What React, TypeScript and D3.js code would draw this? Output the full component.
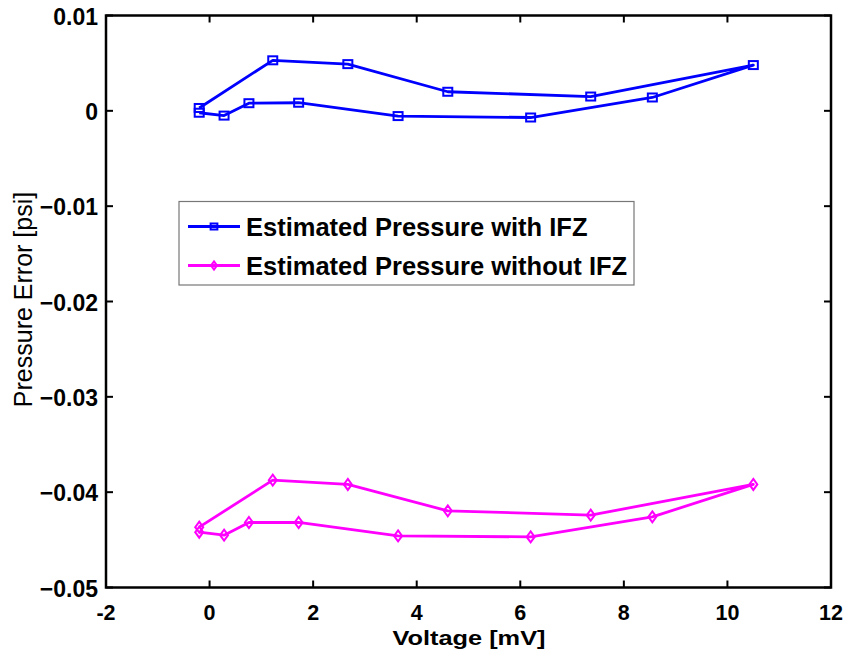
import React from 'react';
import * as d3 from 'd3';

// hysteresis sweep, voltage in mV
const voltage = [-0.2, 1.22, 2.67, 4.6, 7.36, 10.5, 8.55, 6.2, 3.64, 1.72, 0.76, 0.28, -0.2];
const errWithIFZ = [0.0003, 0.0053, 0.0049, 0.002, 0.0015, 0.0048, 0.0014, -0.0007, -0.00055, 0.00085, 0.0008, -0.0005, -0.0002];
const errWithoutIFZ = [-0.04367, -0.03874, -0.03919, -0.04196, -0.04241, -0.03919, -0.04259, -0.04469, -0.04459, -0.04318, -0.04318, -0.04451, -0.0442];

const xTicks = [-2, 0, 2, 4, 6, 8, 10, 12];
const yTicks = [0.01, 0, -0.01, -0.02, -0.03, -0.04, -0.05];
const seriesNames = ['Estimated Pressure with IFZ', 'Estimated Pressure without IFZ'];
const seriesColors = ['#0000ff', '#ff00ff'];

const W = 848, H = 661;
const margin = { left: 106, right: 17, top: 15.5, bottom: 73.5 };
const font = '"Liberation Sans", Arial, Helvetica, sans-serif';

function Marker({ kind, x, y, color, s = 1 }: { kind: string; x: number; y: number; color: string; s?: number }) {
  if (kind === 'square') {
    return <rect x={x - 4.5 * s} y={y - 4 * s} width={9 * s} height={8 * s} fill="none" stroke={color} strokeWidth={2} />;
  }
  const r = 5.5 * s, w = 4 * s;
  return (
    <path d={`M${x},${y - r}L${x + w},${y}L${x},${y + r}L${x - w},${y}Z`} fill="none" stroke={color} strokeWidth={2} />
  );
}

export default function App() {
  const x = d3.scaleLinear().domain([-2, 12]).range([margin.left, W - margin.right]);
  const y = d3.scaleLinear().domain([-0.05, 0.01]).range([H - margin.bottom, margin.top]);

  const line = d3.line<number>()
    .x((_, i) => x(voltage[i]))
    .y((d) => y(d));

  const series = [
    { name: seriesNames[0], values: errWithIFZ, color: seriesColors[0], marker: 'square' },
    { name: seriesNames[1], values: errWithoutIFZ, color: seriesColors[1], marker: 'diamond' },
  ];

  const x0 = margin.left, x1 = W - margin.right;
  const y0 = margin.top, y1 = H - margin.bottom;
  const tickLen = 7;
  const xMid = (x0 + x1) / 2;

  return (
    <svg width={W} height={H} style={{ position: 'absolute', left: 0, top: 0, background: '#fff' }} fontFamily={font}>
      {/* ticks, inside on all sides */}
      {xTicks.map((t) => (
        <g key={'xt' + t}>
          <line x1={x(t)} x2={x(t)} y1={y1} y2={y1 - tickLen} stroke="#000" strokeWidth={2} />
          <line x1={x(t)} x2={x(t)} y1={y0} y2={y0 + tickLen} stroke="#000" strokeWidth={2} />
          <text x={x(t)} y={y1 + 32.5} textAnchor="middle" fontSize={21.5} fontWeight="bold">{t}</text>
        </g>
      ))}
      {yTicks.map((t) => (
        <g key={'yt' + t}>
          <line x1={x0} x2={x0 + tickLen} y1={y(t)} y2={y(t)} stroke="#000" strokeWidth={2} />
          <line x1={x1} x2={x1 - tickLen} y1={y(t)} y2={y(t)} stroke="#000" strokeWidth={2} />
          <text x={x0 - 8} y={y(t) + 9} textAnchor="end" fontSize={23} fontWeight="bold">{t === 0 ? '0' : d3.format('.2f')(t)}</text>
        </g>
      ))}
      <rect x={x0} y={y0} width={x1 - x0} height={y1 - y0} fill="none" stroke="#000" strokeWidth={2.5} />

      {series.map((s) => (
        <g key={s.name}>
          <path d={line(s.values) || ''} fill="none" stroke={s.color} strokeWidth={2.8} strokeLinejoin="round" />
          {s.values.map((v, i) => (
            <Marker key={i} kind={s.marker} x={x(voltage[i])} y={y(v)} color={s.color} />
          ))}
        </g>
      ))}

      {/* legend */}
      <rect x={179} y={201.5} width={455} height={83.5} fill="#fff" stroke="#777" strokeWidth={1.2} />
      {series.map((s, i) => {
        const cy = 226.5 + i * 39;
        return (
          <g key={'lg' + i}>
            <line x1={188} x2={240} y1={cy} y2={cy} stroke={s.color} strokeWidth={2.8} />
            <Marker kind={s.marker} x={214} y={cy} color={s.color} s={0.75} />
            <text x={246} y={cy + 9.2} fontSize={25.5} fontWeight="bold">{s.name}</text>
          </g>
        );
      })}

      <text x={xMid - 76} y={645} fontSize={21} fontWeight="bold" textLength={153} lengthAdjust="spacingAndGlyphs">Voltage [mV]</text>
      <text transform={`translate(32,${(y0 + y1) / 2 - 2}) rotate(-90)`} textAnchor="middle" fontSize={25}>Pressure Error [psi]</text>
    </svg>
  );
}
